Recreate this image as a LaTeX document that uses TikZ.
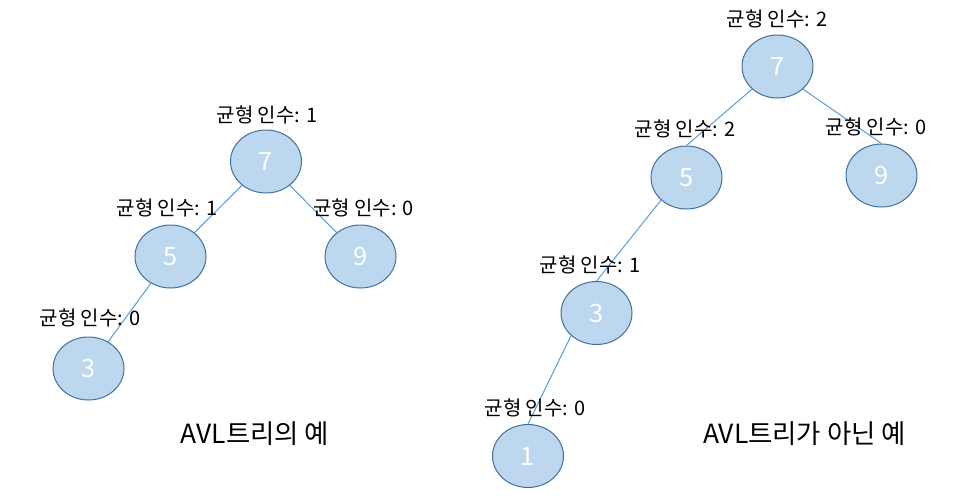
\documentclass[tikz,border=0pt]{standalone}
\usepackage{fontspec}
\setmainfont{Noto Sans CJK KR}
\usetikzlibrary{shapes.geometric}
\definecolor{keyFill}{HTML}{BDD7EE}
\definecolor{keyLine}{HTML}{41719C}
\definecolor{edgeLine}{HTML}{5B9BD5}

\begin{document}
\begin{tikzpicture}[x=0.75pt, y=-0.75pt,
        key/.style={ellipse, draw=keyLine, line width=0.75pt, fill=keyFill,
            text=white, inner sep=0pt, minimum width=53.25pt, minimum height=47.25pt,
            font=\fontsize{19pt}{22pt}\selectfont},
        bf/.style={inner sep=0pt, font=\fontsize{15pt}{18pt}\selectfont},
        caption/.style={inner sep=0pt, font=\fontsize{19.8pt}{23pt}\selectfont},
        edge/.style={draw=edgeLine, line width=0.75pt}]
        \useasboundingbox (0, 0) rectangle (953, 500);

        % AVL tree
        \node[key] (root) at (266, 161.5) {7};
        \node[key] (l) at (170.5, 256.5)  {5};
        \node[key] (r) at (360.5, 256.5)  {9};
        \node[key] (ll) at (88.5, 368.5)  {3};

        \draw[edge] (root) -- (l);
        \draw[edge] (root) -- (r);
        \draw[edge] (l) -- (ll);

        \node[bf] (rootBf) at (267, 115) {균형 인수: 1};
        \node[bf] (lBf) at (167, 208)    {균형 인수: 1};
        \node[bf] (rBf) at (363.5, 208)  {균형 인수: 0};
        \node[bf] (llBf) at (90, 318)    {균형 인수: 0};

        % not an AVL tree
        \node[key] (nRoot) at (777.5, 66.5) {7};
        \node[key] (nl) at (686.5, 177.5)   {5};
        \node[key] (nr) at (881.5, 175.5)   {9};
        \node[key] (nll) at (596.5, 313)    {3};
        \node[key] (nlll) at (528, 456)     {1};

        \draw[edge] (nRoot.south west) -- (nl.north);
        \draw[edge] (nRoot.south east) -- (nr.north);
        \draw[edge] (nl.south west) -- (nll.north);
        \draw[edge] (nll.south west) -- (nlll.north);

        \node[bf] (nRootBf) at (777, 19) {균형 인수: 2};
        \node[bf] (nlBf) at (685, 129)   {균형 인수: 2};
        \node[bf] (nrBf) at (876, 127)   {균형 인수: 0};
        \node[bf] (nllBf) at (590, 265)  {균형 인수: 1};
        \node[bf] (nlllBf) at (535, 408) {균형 인수: 0};

        \node[caption] (avlTitle) at (255, 434)   {AVL트리의 예};
        \node[caption] (nonTitle) at (804.5, 434) {AVL트리가 아닌 예};
    \end{tikzpicture}
\end{document}
